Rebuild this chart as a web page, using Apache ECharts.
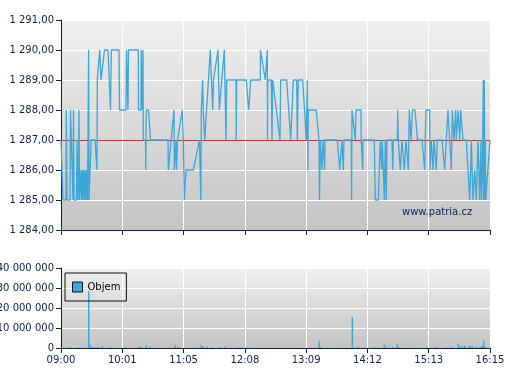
<!DOCTYPE html>
<html><head><meta charset="utf-8">
<script src="https://cdn.jsdelivr.net/npm/echarts@6/dist/echarts.min.js"></script>
<style>html,body{margin:0;padding:0;background:#fff}#c{width:507px;height:380px}</style>
</head><body><div id="c"></div>
<script>
// ---- data ----
const timeLabels = ['09:00','10:01','11:05','12:08','13:09','14:12','15:13','16:15'];
const sessionLength = 429;           // trade-position units across the session
const referencePrice = 1287;
const priceMin = 1284, priceMax = 1291, priceStep = 1;
const volumeMax = 40000000, volumeStep = 10000000;

// [session position, price]
const pricePoints = [
[0,1287],[1.5,1287],[2,1285],[5,1285],[5.3,1288],[6,1285],[9,1285],[9.5,1288],[12,1285],[12.5,1288],[13,1285],
[15.5,1285],[16,1287],[17,1285],[18,1288],[18.5,1285],[20,1286],[20.5,1285],[21.5,1286],[22,1285],[23,1286],
[23.5,1285],[24.5,1286],[25,1285],[26,1286],[26.5,1285],[27.3,1285],[27.6,1290],[28,1285],[30,1285],[30.2,1287],
[34,1287],[36,1286],[36.3,1289],[37.5,1289],[38.7,1290],[39.5,1290],[40,1289],[41.5,1289],[43.5,1290],[47,1290],
[49.5,1288],[50,1288],[50.3,1290],[58,1290],[58.5,1288],[65,1288],[65.5,1290],[66.3,1290],[67,1288],[67.5,1290],
[77.3,1290],[77.5,1288],[80,1288],[80.2,1290],[80.7,1290],[80.9,1288],[81.8,1288],[82,1290],[82.3,1287],[84.5,1287],
[84.8,1286],[85.2,1288],[87.5,1288],[89.5,1287],[107,1287],[107.3,1286],[108.3,1286],[113,1288],[113.3,1286],
[114.5,1286],[115,1287],[115.5,1286],[116.5,1287],[121.3,1288],[122.3,1287],[123.3,1285],[124.8,1285],[125,1286],
[132.3,1286],[138.5,1287],[139.5,1287],[139.8,1285],[140.3,1288],[141.3,1288],[141.6,1289],[142.2,1288],[143.7,1287],
[149.3,1290],[151,1290],[151.7,1288],[152.5,1289],[157,1290],[158.3,1288],[163.3,1290],[165,1287],[165.7,1289],
[175,1289],[175.2,1287],[175.7,1289],[185.3,1289],[187.7,1288],[189.3,1288],[189.7,1289],[199.3,1289],[199.5,1290],
[204.3,1289],[206.3,1290],[206.5,1287],[206.8,1289],[210.3,1289],[211,1287],[211.7,1289],[213,1289],[219,1287],
[219.7,1289],[225.7,1289],[229.7,1287],[232.3,1289],[235.7,1289],[236.3,1287],[237.3,1289],[241.7,1289],[245.3,1287],
[246.3,1289],[246.8,1286],[247.3,1288],[255.3,1288],[258,1287],[258.5,1285],[259.3,1287],[261,1286],[262,1287],
[263.7,1286],[264,1287],[276.3,1287],[278.7,1286],[281,1287],[282.3,1286],[283,1287],[290.3,1287],[290.6,1285],
[291,1288],[292.3,1288],[294.3,1287],[295,1288],[300,1288],[300.2,1287],[301.7,1286],[302,1287],[313.3,1287],
[314.3,1285],[317.3,1285],[319.3,1287],[320.7,1286],[321.3,1287],[323.3,1285],[324.3,1287],[325.3,1285],[326,1287],
[331,1287],[331.7,1286],[332.3,1287],[336.3,1287],[336.7,1288],[337.3,1287],[339.3,1286],[341,1287],[343.3,1286],
[345,1287],[347.3,1286],[348.3,1288],[350,1287],[351.5,1288],[354,1288],[356.5,1287],[361,1287],[363.7,1286],
[364.3,1287],[365,1288],[368.7,1288],[369,1286],[370.3,1287],[372,1286],[373,1287],[375.3,1286],[376.3,1287],
[381,1287],[383.7,1286],[385.3,1287],[387,1288],[390.3,1286],[391.3,1288],[393,1287],[394.7,1288],[395.3,1287],
[397,1288],[398.7,1287],[399.7,1288],[402,1287],[405.3,1287],[407,1286],[408.7,1285],[409.7,1286],[410.3,1287],
[412,1285],[413.7,1286],[415.3,1285],[417,1287],[418.7,1285],[419.5,1285],[420,1287],[420.5,1285],[421.5,1286],
[422.3,1289],[422.7,1285],[423.3,1289],[423.7,1285],[424.3,1287],[424.7,1285],[425.3,1285],[429,1287]
];

// [session position, volume]
const volumePoints = [
[9.3,400000],[18.7,400000],[27.7,28300000],[28.7,1600000],[30.3,800000],[33,500000],[35.3,400000],[37.7,500000],
[41.3,1000000],[49.3,500000],[65.3,400000],[78.7,500000],[80.3,500000],[85.3,1300000],[88.7,600000],[114.3,1500000],
[117,600000],[140.3,1300000],[142,700000],[146.3,600000],[151,500000],[158,500000],[163.7,600000],[177,400000],
[185.3,500000],[189,300000],[258.3,3600000],[259.7,500000],[291.3,15500000],[297.3,500000],[313.3,400000],
[323.3,1600000],[325.7,500000],[331.7,500000],[336.3,2200000],[337.7,600000],[365.7,500000],[374.7,600000],
[384.7,400000],[389.7,500000],[397.3,2000000],[399,800000],[400.7,800000],[403.3,1200000],[404.7,600000],
[408.3,1000000],[409.7,800000],[411.7,800000],[415.7,500000],[419,500000],[420.7,800000],[421.7,1200000],
[422.7,3700000],[424,500000]
];

// ---- chart ----
const navy = '#0d1f4f';
const blue = '#3fa6d6';
function fmtNum(v, dec) {
  const s = Math.abs(v).toFixed(dec);
  const parts = s.split('.');
  const int = parts[0].replace(/\B(?=(\d{3})+(?!\d))/g, ' ');
  return (v < 0 ? '-' : '') + int + (dec ? ',' + parts[1] : '');
}
function bg() {
  return new echarts.graphic.LinearGradient(0, 0, 0, 1, [
    {offset: 0, color: '#efefef'}, {offset: 1, color: '#c4c4c4'}]);
}
const font = {fontFamily: 'DejaVu Sans', fontSize: 10, color: navy};
const xInterval = sessionLength / (timeLabels.length - 1);
function xAxis(idx, showLabels) {
  return {
    type: 'value', gridIndex: idx, min: 0, max: sessionLength, interval: xInterval,
    axisLine: {show: true, onZero: false, lineStyle: {color: navy, width: 1}},
    axisTick: {show: true, length: 5, lineStyle: {color: navy}},
    axisLabel: Object.assign({show: showLabels, margin: 7,
      formatter: v => timeLabels[Math.round(v / xInterval)] || ''}, font),
    splitLine: {show: true, lineStyle: {color: '#ffffff', width: 1}}
  };
}
function yAxis(idx, min, max, step, dec) {
  return {
    type: 'value', gridIndex: idx, min: min, max: max, interval: step,
    axisLine: {show: true, onZero: false, lineStyle: {color: navy}},
    axisTick: {show: true, length: 5, lineStyle: {color: navy}},
    axisLabel: Object.assign({margin: 7, formatter: v => fmtNum(v, dec)}, font),
    splitLine: {show: true, lineStyle: {color: '#ffffff', width: 1}}
  };
}
const chart = echarts.init(document.getElementById('c'), null, {renderer: 'canvas'});
chart.setOption({
  animation: false,
  backgroundColor: '#ffffff',
  grid: [
    {left: 61, top: 20, width: 429, height: 210, show: true, backgroundColor: bg(), borderWidth: 0,
     containLabel: false, outerBoundsMode: 'none'},
    {left: 61, top: 268, width: 429, height: 80, show: true, backgroundColor: bg(), borderWidth: 0,
     containLabel: false, outerBoundsMode: 'none'}
  ],
  xAxis: [xAxis(0, false), xAxis(1, true)],
  yAxis: [yAxis(0, priceMin, priceMax, priceStep, 2), yAxis(1, 0, volumeMax, volumeStep, 0)],
  legend: {
    data: [{name: 'Objem', icon: 'rect', itemStyle: {color: blue, borderColor: '#111', borderWidth: 1}}],
    left: 65, top: 273, orient: 'horizontal',
    borderColor: '#111', borderWidth: 1, padding: [8, 6, 8, 7],
    itemWidth: 10, itemHeight: 10,
    textStyle: {fontFamily: 'DejaVu Sans', fontSize: 10, lineHeight: 12, color: '#000'}
  },
  graphic: [{type: 'text', left: 402, top: 207,
    style: {text: 'www.patria.cz', fill: navy, font: '10px "DejaVu Sans"'}}],
  series: [
    {name: 'Cena', type: 'line', xAxisIndex: 0, yAxisIndex: 0, data: pricePoints,
     showSymbol: false, symbol: 'none', sampling: null, z: 3,
     lineStyle: {color: blue, width: 1.3}, itemStyle: {color: blue},
     markLine: {silent: true, symbol: 'none', label: {show: false}, z: 2,
       lineStyle: {color: '#e0261e', width: 1, type: 'solid'},
       data: [{yAxis: referencePrice}]}},
    {name: 'Objem', type: 'custom', xAxisIndex: 1, yAxisIndex: 1, data: volumePoints,
     itemStyle: {color: blue},
     encode: {x: 0, y: 1},
     renderItem: function (params, api) {
       const top = api.coord([api.value(0), api.value(1)]);
       const base = api.coord([api.value(0), 0]);
       return {type: 'rect',
         shape: {x: top[0] - 0.75, y: top[1], width: 1.5, height: base[1] - top[1]},
         style: {fill: blue}};
     }}
  ]
});
</script></body></html>
